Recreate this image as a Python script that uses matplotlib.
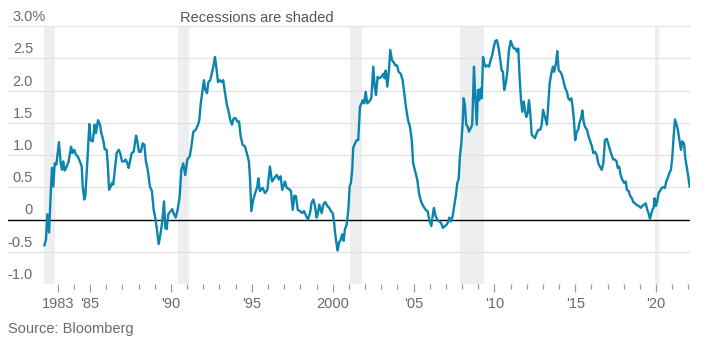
import numpy as np
import matplotlib.pyplot as plt
import matplotlib.transforms as mtransforms

plt.rcParams['font.family'] = ['Liberation Sans', 'DejaVu Sans']

# spread, percentage points (decimal years)
years = [
    1982.17, 1982.27, 1982.35, 1982.46, 1982.58, 1982.64, 1982.72, 1982.81, 1982.91,
    1983.07, 1983.18, 1983.26, 1983.34, 1983.43, 1983.55, 1983.67, 1983.82, 1983.90,
    1984.02, 1984.13, 1984.23, 1984.37, 1984.48, 1984.54, 1984.64, 1984.70, 1984.81, 1984.95,
    1985.03, 1985.16, 1985.28, 1985.36, 1985.49, 1985.61, 1985.69, 1985.81, 1985.90,
    1986.02, 1986.10, 1986.17, 1986.27, 1986.35, 1986.43, 1986.52, 1986.64, 1986.77, 1986.86, 1986.97,
    1987.09, 1987.20, 1987.30, 1987.38, 1987.46, 1987.57, 1987.69, 1987.84, 1987.92,
    1988.02, 1988.13, 1988.25, 1988.35, 1988.45, 1988.56, 1988.70, 1988.82, 1988.93,
    1989.01, 1989.12, 1989.24, 1989.36, 1989.46, 1989.57, 1989.65, 1989.73, 1989.83, 1989.98,
    1990.08, 1990.19, 1990.29, 1990.41, 1990.54, 1990.64, 1990.76, 1990.88,
    1991.01, 1991.16, 1991.26, 1991.38, 1991.53, 1991.67, 1991.75, 1991.84, 1991.94,
    1992.04, 1992.12, 1992.23, 1992.31, 1992.43, 1992.52, 1992.62, 1992.72, 1992.80, 1992.91,
    1993.03, 1993.14, 1993.23, 1993.32, 1993.44, 1993.57, 1993.67, 1993.77, 1993.88,
    1994.00, 1994.10, 1994.21, 1994.31, 1994.43, 1994.58, 1994.72, 1994.82, 1994.89, 1994.97,
    1995.09, 1995.21, 1995.34, 1995.40, 1995.50, 1995.67, 1995.81, 1995.96,
    1996.12, 1996.25, 1996.39, 1996.54, 1996.68, 1996.78, 1996.88,
    1997.05, 1997.16, 1997.32, 1997.42, 1997.53, 1997.63, 1997.73, 1997.84, 1997.98,
    1998.12, 1998.23, 1998.35, 1998.47, 1998.60, 1998.70, 1998.80, 1998.89,
    1999.01, 1999.09, 1999.17, 1999.32, 1999.42, 1999.54, 1999.67, 1999.79, 1999.89,
    2000.00, 2000.08, 2000.16, 2000.25, 2000.31, 2000.39, 2000.50, 2000.59, 2000.68, 2000.76, 2000.87, 2000.97,
    2001.05, 2001.13, 2001.21, 2001.27, 2001.38, 2001.48, 2001.58, 2001.69, 2001.77, 2001.86, 2001.95,
    2002.04, 2002.14, 2002.26, 2002.39, 2002.51, 2002.60, 2002.68, 2002.78, 2002.88,
    2003.01, 2003.13, 2003.22, 2003.28, 2003.38, 2003.48, 2003.56, 2003.67, 2003.77, 2003.87, 2003.98,
    2004.08, 2004.21, 2004.33, 2004.43, 2004.53, 2004.66, 2004.78, 2004.89, 2004.98,
    2005.13, 2005.23, 2005.34, 2005.46, 2005.60, 2005.75, 2005.87, 2005.97,
    2006.10, 2006.18, 2006.26, 2006.37, 2006.47, 2006.59, 2006.70, 2006.82, 2006.95,
    2007.05, 2007.15, 2007.21, 2007.32, 2007.42, 2007.52, 2007.63, 2007.71, 2007.79, 2007.87, 2007.95,
    2008.04, 2008.10, 2008.18, 2008.26, 2008.35, 2008.43, 2008.53, 2008.63, 2008.74, 2008.82, 2008.91, 2008.99,
    2009.07, 2009.15, 2009.22, 2009.30, 2009.38, 2009.46, 2009.56, 2009.67, 2009.77, 2009.87, 2009.96,
    2010.06, 2010.16, 2010.27, 2010.37, 2010.45, 2010.53, 2010.61, 2010.72, 2010.80, 2010.90,
    2011.01, 2011.11, 2011.21, 2011.32, 2011.40, 2011.48, 2011.56, 2011.65, 2011.73, 2011.81, 2011.89, 2011.97,
    2012.06, 2012.14, 2012.22, 2012.31, 2012.41, 2012.51, 2012.62, 2012.72, 2012.84, 2012.93,
    2013.01, 2013.13, 2013.25, 2013.33, 2013.42, 2013.52, 2013.62, 2013.70, 2013.81, 2013.89, 2013.98,
    2014.08, 2014.18, 2014.29, 2014.39, 2014.49, 2014.57, 2014.68, 2014.76, 2014.84, 2014.92,
    2015.00, 2015.09, 2015.19, 2015.25, 2015.36, 2015.44, 2015.52, 2015.60, 2015.73, 2015.83, 2015.93,
    2016.04, 2016.12, 2016.22, 2016.33, 2016.43, 2016.53, 2016.64, 2016.74, 2016.84, 2016.95,
    2017.04, 2017.15, 2017.25, 2017.35, 2017.46, 2017.56, 2017.63, 2017.72, 2017.81, 2017.91,
    2018.02, 2018.12, 2018.20, 2018.31, 2018.41, 2018.51, 2018.59, 2018.70, 2018.82, 2018.94,
    2019.05, 2019.15, 2019.25, 2019.36, 2019.46, 2019.56, 2019.62, 2019.70, 2019.77, 2019.85, 2019.91, 2019.99,
    2020.07, 2020.16, 2020.24, 2020.35, 2020.45, 2020.55, 2020.63, 2020.72, 2020.82, 2020.92,
    2021.00, 2021.09, 2021.17, 2021.27, 2021.35, 2021.46, 2021.54, 2021.62, 2021.73, 2021.81, 2021.91, 2021.99,
    2022.08,
]
spread = [
    -0.40, -0.31, 0.08, -0.20, 0.51, 0.80, 0.51, 0.87, 0.85,
    1.20, 0.87, 0.77, 0.90, 0.76, 0.82, 0.90, 1.13, 1.03,
    1.08, 1.00, 0.98, 0.90, 0.82, 0.51, 0.31, 0.36, 0.82, 1.48,
    1.23, 1.21, 1.47, 1.34, 1.54, 1.47, 1.34, 1.23, 1.09,
    1.08, 0.82, 0.46, 0.51, 0.57, 0.54, 0.75, 1.03, 1.08, 1.03, 0.90,
    0.90, 0.93, 0.87, 0.80, 0.90, 1.03, 1.05, 1.30, 1.21,
    1.05, 1.05, 1.18, 1.16, 0.90, 0.77, 0.51, 0.44, 0.15,
    0.05, -0.13, -0.38, -0.21, -0.03, 0.28, -0.13, -0.15, 0.08, 0.13,
    0.16, 0.08, 0.03, 0.15, 0.36, 0.77, 0.87, 0.69,
    0.93, 0.98, 1.13, 1.36, 1.39, 1.47, 1.54, 1.80, 1.98,
    2.16, 2.01, 1.96, 2.13, 2.16, 2.26, 2.37, 2.52, 2.37, 2.13,
    2.16, 2.13, 2.16, 2.01, 1.80, 1.67, 1.54, 1.47, 1.57,
    1.57, 1.52, 1.52, 1.29, 1.16, 1.13, 1.00, 0.90, 0.62, 0.13,
    0.31, 0.41, 0.51, 0.64, 0.44, 0.49, 0.41, 0.46,
    0.82, 0.59, 0.64, 0.69, 0.62, 0.67, 0.46,
    0.59, 0.49, 0.47, 0.44, 0.15, 0.37, 0.36, 0.15, 0.13,
    0.10, 0.13, 0.06, 0.00, 0.10, 0.26, 0.31, 0.23,
    0.03, 0.10, 0.23, 0.10, 0.23, 0.27, 0.21, 0.18, 0.13,
    0.10, -0.03, -0.23, -0.39, -0.48, -0.36, -0.31, -0.23, -0.33, -0.15, -0.08, 0.15,
    0.51, 0.57, 0.77, 1.11, 1.18, 1.23, 1.23, 1.75, 1.79, 1.85, 1.80,
    1.98, 1.80, 1.83, 1.88, 2.37, 2.06, 1.93, 2.21, 2.19,
    2.21, 2.26, 2.19, 2.31, 2.06, 2.31, 2.63, 2.47, 2.44, 2.39, 2.39,
    2.29, 2.26, 2.16, 1.96, 1.75, 1.54, 1.44, 1.23, 0.87,
    0.72, 0.62, 0.41, 0.28, 0.21, 0.15, 0.13, 0.00,
    -0.10, 0.05, 0.18, 0.05, 0.00, -0.03, -0.05, -0.13, -0.10,
    -0.08, -0.03, 0.03, -0.03, 0.05, 0.21, 0.39, 0.57, 0.62, 0.98, 1.16,
    1.49, 1.88, 1.77, 1.47, 1.44, 1.36, 1.41, 1.47, 2.37, 1.90, 1.47, 2.01,
    1.85, 2.03, 1.88, 2.52, 2.42, 2.37, 2.39, 2.37, 2.47, 2.55, 2.67,
    2.77, 2.78, 2.65, 2.47, 2.31, 2.29, 2.01, 2.13, 2.29, 2.62,
    2.77, 2.70, 2.65, 2.65, 2.60, 2.65, 2.21, 1.85, 1.67, 1.83, 1.70, 1.59,
    1.65, 1.85, 1.65, 1.31, 1.29, 1.26, 1.34, 1.39, 1.39, 1.47,
    1.70, 1.59, 1.47, 1.77, 2.11, 2.26, 2.37, 2.29, 2.42, 2.61, 2.31,
    2.29, 2.24, 2.13, 2.03, 1.98, 1.88, 1.85, 1.88, 1.75, 1.54,
    1.23, 1.36, 1.39, 1.49, 1.57, 1.69, 1.52, 1.44, 1.39, 1.29, 1.21,
    1.13, 1.03, 1.05, 1.00, 0.87, 0.82, 0.77, 0.87, 1.23, 1.25,
    1.18, 1.08, 1.00, 0.93, 0.93, 0.90, 0.80, 0.82, 0.69, 0.62,
    0.57, 0.59, 0.46, 0.44, 0.36, 0.33, 0.27, 0.25, 0.22, 0.21,
    0.18, 0.21, 0.23, 0.25, 0.15, 0.08, 0.01, 0.08, 0.15, 0.18, 0.33, 0.21,
    0.28, 0.41, 0.44, 0.49, 0.50, 0.49, 0.59, 0.64, 0.72, 0.77,
    0.95, 1.29, 1.55, 1.47, 1.39, 1.21, 1.08, 1.21, 1.18, 0.95, 0.80, 0.67,
    0.51,
]

rec_start = [1982.17, 1990.45, 2001.10, 2007.85, 2019.95]
rec_end = [1982.80, 1991.10, 2001.80, 2009.35, 2020.17]

major_years = [1983, 1985, 1990, 1995, 2000, 2005, 2010, 2015, 2020]
major_labels = ['1983', "'85", "'90", "'95", '2000', "'05", "'10", "'15", "'20"]
minor_years = [y for y in range(1984, 2023) if y not in major_years]
y_ticks = [-1.0, -0.5, 0.0, 0.5, 1.0, 1.5, 2.0, 2.5, 3.0]
y_labels = ['-1.0', '-0.5', '0', '0.5', '1.0', '1.5', '2.0', '2.5', '3.0%']

W, H = 701, 342
fig = plt.figure(figsize=(W / 100, H / 100), dpi=100)
ax = fig.add_axes([8 / W, 1 - 284 / H, 682 / W, 258 / H])

for s, e in zip(rec_start, rec_end):
    ax.axvspan(s, e, color='#eceef0', lw=0, zorder=0)

for v in y_ticks:
    if v == 0:
        ax.axhline(v, color='black', lw=1.0, zorder=3)
    else:
        ax.axhline(v, color='#e2e2e2', lw=0.9, zorder=1)

ax.plot(years, spread, color='#0b84ae', lw=1.7, zorder=4, solid_joinstyle='round')

ax.set_xlim(1979.92, 2022.1)
ax.set_ylim(-1.0, 3.0)

for sp in ax.spines.values():
    sp.set_visible(False)

ax.set_yticks([])
ax.set_xticks(major_years)
ax.set_xticklabels(major_labels)
ax.set_xticks(minor_years, minor=True)
ax.tick_params(axis='x', which='major', length=6, width=0.9, color='#9a9a9a',
               labelsize=10.5, labelcolor='#6a6a6a', pad=3)
ax.tick_params(axis='x', which='minor', length=3.5, width=0.9, color='#9a9a9a')

# y labels sit inside the plot, just above their gridline
trans = mtransforms.blended_transform_factory(ax.transAxes, ax.transData)
trans = mtransforms.offset_copy(trans, fig=fig, y=5, units='dots')
for v, lab in zip(y_ticks, y_labels):
    if lab.endswith('%'):
        ax.text(4.7 / 682, v, lab, transform=trans, ha='left', va='baseline',
                fontsize=10.5, color='#6a6a6a')
    else:
        ax.text(25 / 682, v, lab, transform=trans, ha='right', va='baseline',
                fontsize=10.5, color='#6a6a6a')

fig.text(256.5 / W, 1 - 21.7 / H, 'Recessions are shaded', ha='center', va='baseline',
         fontsize=10.5, color='#555555')
fig.text(8 / W, 1 - 332.5 / H, 'Source: Bloomberg', ha='left', va='baseline',
         fontsize=10.5, color='#6a6a6a')

fig.savefig('out.png', dpi=100)
